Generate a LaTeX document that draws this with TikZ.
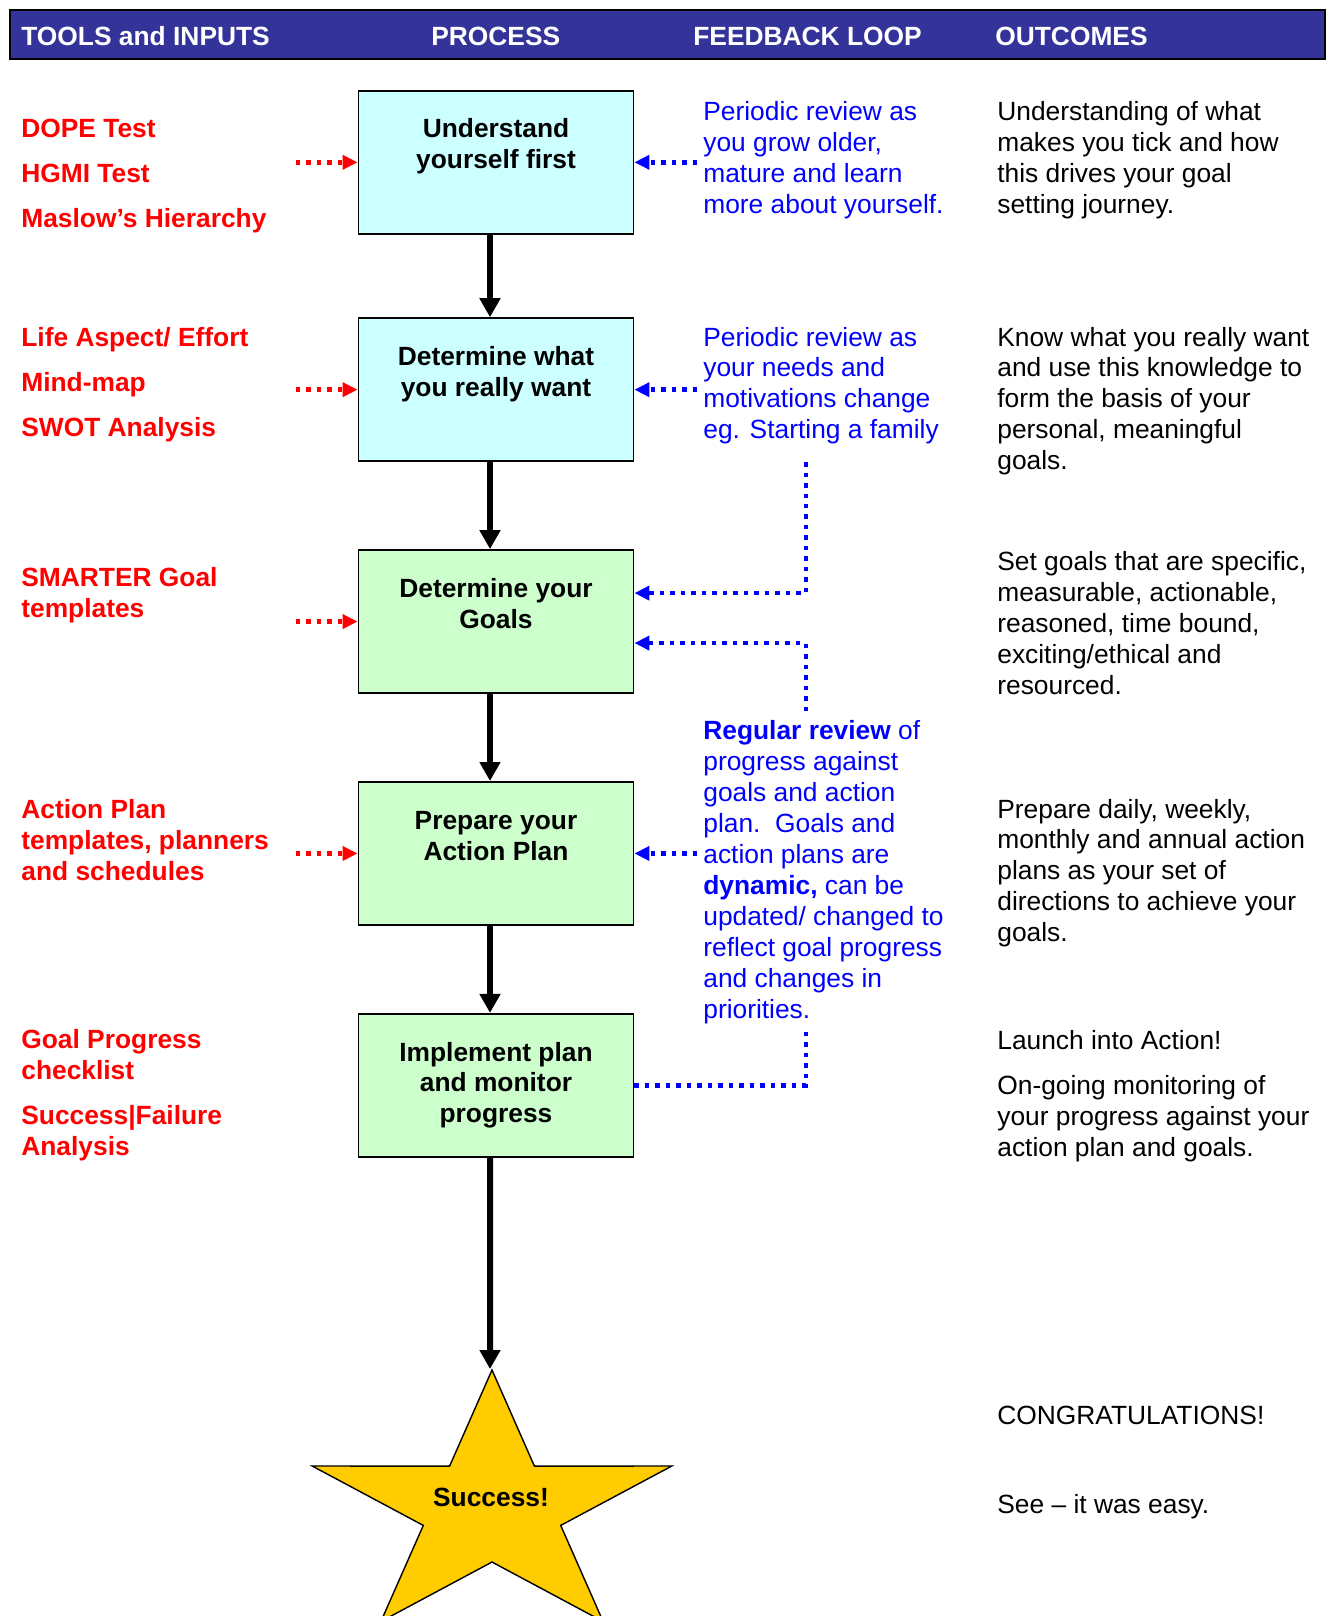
\documentclass[tikz,border=0pt]{standalone}
\usepackage{fontspec}
\setmainfont{Liberation Sans}
\usetikzlibrary{arrows.meta,positioning}

\definecolor{hdrblue}{HTML}{333399}
\definecolor{boxcyan}{HTML}{CCFFFF}
\definecolor{boxgreen}{HTML}{CCFFCC}
\definecolor{fbblue}{HTML}{0000FF}
\definecolor{toolred}{HTML}{FF0000}
\definecolor{stargold}{HTML}{FFCC00}
\newcommand{\bodysize}{\fontsize{15}{17.6}\selectfont}

\begin{document}
\begin{tikzpicture}[
    x=0.02cm, y=-0.02cm,
    node distance=1.74cm,
    every node/.style={inner sep=0pt, font=\bodysize},
    box/.style={draw, line width=1.1pt, minimum width=5.5cm, minimum height=2.86cm},
    boxtext/.style={align=center, font=\bodysize\bfseries, anchor=base},
    hdr/.style={text=white, font=\bodysize\bfseries, anchor=base west},
    tool/.style={text=toolred, font=\bodysize\bfseries, align=left, anchor=base west},
    fb/.style={text=fbblue, align=left, anchor=base west},
    outc/.style={align=left, anchor=base west},
    flow/.style={-{Triangle[length=0.38cm,width=0.4cm]}, line width=0.12cm},
    inarrow/.style={-{Triangle[length=0.3cm,width=0.28cm]}, toolred, line width=0.09cm, dash pattern=on 0.09cm off 0.12cm},
    fbline/.style={fbblue, line width=0.09cm, dash pattern=on 0.09cm off 0.12cm},
    fbarrow/.style={fbline, -{Triangle[length=0.3cm,width=0.28cm]}}
]
\useasboundingbox (0,0) rectangle (1329,1616);

% header bar
\fill[hdrblue] (10,10) rectangle (1325,59);
\draw[line width=1.5pt] (10,10) rectangle (1325,59);
\node[hdr] (h1) at (21,45.5) {TOOLS and INPUTS};
\node[hdr] (h2) at (431,45.5) {PROCESS};
\node[hdr] (h3) at (693,45.5) {FEEDBACK LOOP};
\node[hdr] (h4) at (995,45.5) {OUTCOMES};

% process boxes
\node[box, fill=boxcyan] (b1) at (496,162.3) {};
\node[box, fill=boxcyan, below=1.65cm of b1] (b2) {};
\node[box, fill=boxgreen, below=of b2] (b3) {};
\node[box, fill=boxgreen, below=of b3] (b4) {};
\node[box, fill=boxgreen, below=of b4] (b5) {};

% (multi-line nodes sit on their last baseline)
\node[boxtext] (t1) at ([yshift=-1.58cm]b1.north) {Understand\\yourself first};
\node[boxtext] (t2) at ([yshift=-1.58cm]b2.north) {Determine what\\you really want};
\node[boxtext] (t3) at ([yshift=-1.58cm]b3.north) {Determine your\\Goals};
\node[boxtext] (t4) at ([yshift=-1.58cm]b4.north) {Prepare your\\Action Plan};
\node[boxtext] (t5) at ([yshift=-2.2cm]b5.north) {Implement plan\\and monitor\\progress};

% success star
\filldraw[fill=stargold, line width=0.8pt] (492,1370) -- (534.4,1466.1) -- (671.8,1466) -- (560.7,1525.4)
  -- (603.1,1621.5) -- (492,1562) -- (380.9,1621.5) -- (423.3,1525.4) -- (312.2,1466) -- (449.6,1466.1) -- cycle;
\coordinate (startop) at (490,1369);
\node[boxtext] (success) at (491,1506.5) {Success!};

% tools and inputs
\node[tool] (r1) at (21,227.4) {DOPE Test\\[0.28cm]HGMI Test\\[0.28cm]Maslow’s Hierarchy};
\node[tool] (r2) at (21,436) {Life Aspect/ Effort\\[0.28cm]Mind-map\\[0.28cm]SWOT Analysis};
\node[tool] (r3) at (21,617) {SMARTER Goal\\templates};
\node[tool] (r4) at (21,880) {Action Plan\\templates, planners\\and schedules};
\node[tool] (r5) at (21,1155.3) {Goal Progress\\checklist\\[0.28cm]Success|Failure\\Analysis};

% feedback loop
\node[fb] (fb1) at (703,213.3) {Periodic review as\\you grow older,\\mature and learn\\more about yourself.};
\node[fb] (fb2) at (703,438.8) {Periodic review as\\your needs and\\motivations change\\eg. Starting a family};
\node[fb] (fb3) at (703,1018) {\textbf{Regular review} of\\progress against\\goals and action\\plan.\ \ Goals and\\action plans are\\\textbf{dynamic,} can be\\updated/ changed to\\reflect goal progress\\and changes in\\priorities.};

% outcomes
\node[outc] (o1) at (997,213.3) {Understanding of what\\makes you tick and how\\this drives your goal\\setting journey.};
\node[outc] (o2) at (997,469.7) {Know what you really want\\and use this knowledge to\\form the basis of your\\personal, meaningful\\goals.};
\node[outc] (o3) at (997,694.2) {Set goals that are specific,\\measurable, actionable,\\reasoned, time bound,\\exciting/ethical and\\resourced.};
\node[outc] (o4) at (997,941.7) {Prepare daily, weekly,\\monthly and annual action\\plans as your set of\\directions to achieve your\\goals.};
\node[outc] (o5) at (997,1156.3) {Launch into Action!\\[0.28cm]On-going monitoring of\\your progress against your\\action plan and goals.};
\node[outc] (o6) at (997,1424.5) {CONGRATULATIONS!};
\node[outc] (o7) at (997,1513) {See – it was easy.};

% main flow
\draw[flow] ([xshift=-0.12cm]b1.south) -- ([xshift=-0.12cm]b2.north);
\draw[flow] ([xshift=-0.12cm]b2.south) -- ([xshift=-0.12cm]b3.north);
\draw[flow] ([xshift=-0.12cm]b3.south) -- ([xshift=-0.12cm]b4.north);
\draw[flow] ([xshift=-0.12cm]b4.south) -- ([xshift=-0.12cm]b5.north);
\draw[flow] ([xshift=-0.12cm]b5.south) -- (startop);

% inputs
\foreach \b in {b1,b2,b3,b4}
  \draw[inarrow] ([xshift=-1.24cm]\b.west) -- (\b.west);

% feedback
\foreach \b in {b1,b2,b4}
  \draw[fbarrow] ([xshift=1.26cm]\b.east) -- (\b.east);
\coordinate (k1) at (806,462);
\coordinate (k2) at (806,711);
\coordinate (k3) at (806,1027);
\draw[fbarrow] (k1) |- ([yshift=0.57cm]b3.east);
\draw[fbarrow] (k2) |- ([yshift=-0.43cm]b3.east);
\draw[fbline] (b5.east) -| (k3);
\end{tikzpicture}
\end{document}
